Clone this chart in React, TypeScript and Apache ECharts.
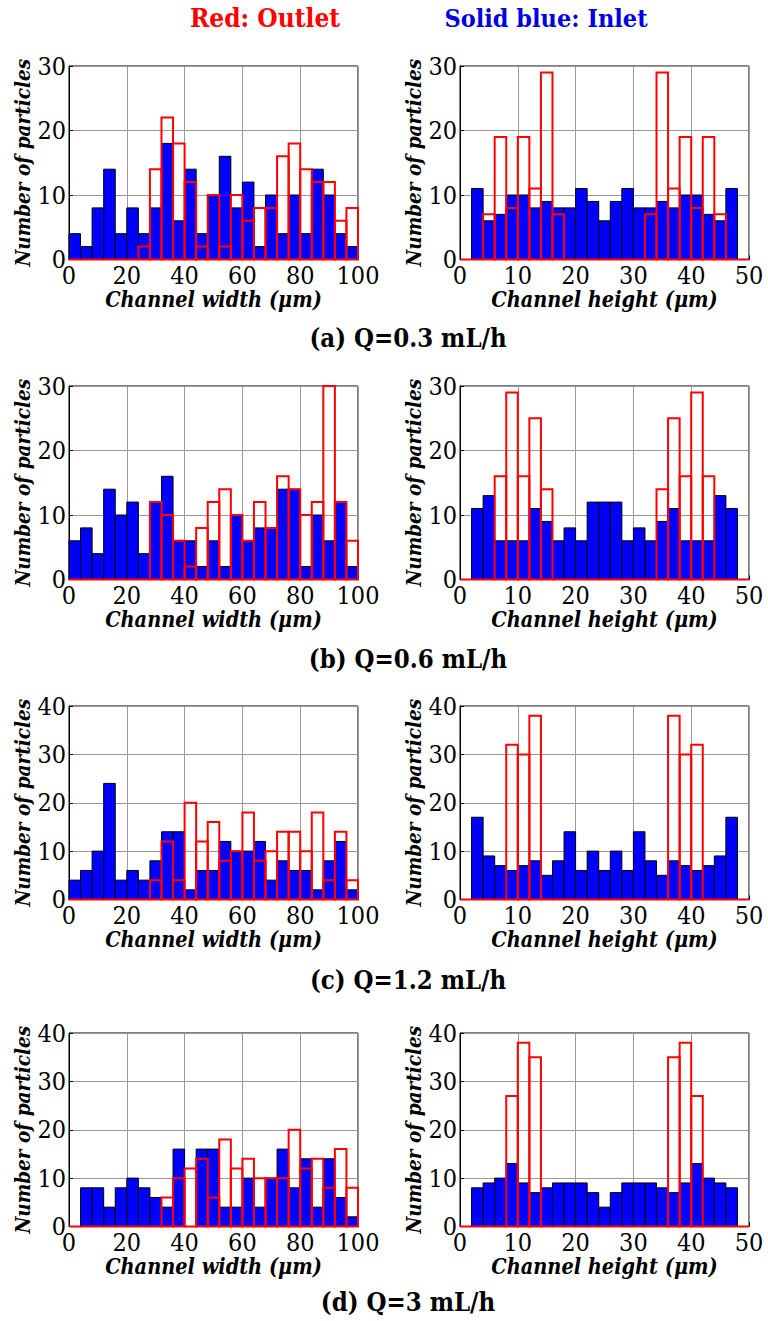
import React, { useEffect, useRef } from "react";
import * as echarts from "echarts";

// Bin layout: width panels use 25 bins of 4 µm (0-100), height panels use 25 bins of 2 µm (0-50)
const widthBinSize = 4;
const heightBinSize = 2;

const aWidthInlet = [4, 2, 8, 14, 4, 8, 4, 8, 18, 6, 14, 4, 10, 16, 8, 12, 2, 10, 4, 10, 4, 14, 10, 4, 2];
const aWidthOutlet = [0, 0, 0, 0, 0, 0, 2, 14, 22, 18, 12, 2, 10, 2, 10, 6, 8, 8, 16, 18, 14, 12, 12, 6, 8];
const aHeightInlet = [0, 11, 6, 7, 10, 10, 8, 9, 8, 8, 11, 9, 6, 9, 11, 8, 8, 9, 8, 10, 10, 7, 6, 11, 0];
const aHeightOutlet = [0, 0, 7, 19, 8, 19, 11, 29, 7, 0, 0, 0, 0, 0, 0, 0, 7, 29, 11, 19, 8, 19, 7, 0, 0];

const bWidthInlet = [6, 8, 4, 14, 10, 12, 4, 12, 16, 6, 6, 2, 6, 2, 10, 6, 8, 8, 14, 14, 2, 10, 6, 12, 2];
const bWidthOutlet = [0, 0, 0, 0, 0, 0, 0, 12, 10, 6, 2, 8, 12, 14, 10, 6, 12, 8, 16, 14, 10, 12, 30, 12, 6];
const bHeightInlet = [0, 11, 13, 6, 6, 6, 11, 9, 6, 8, 6, 12, 12, 12, 6, 8, 6, 9, 11, 6, 6, 6, 13, 11, 0];
const bHeightOutlet = [0, 0, 0, 16, 29, 16, 25, 14, 0, 0, 0, 0, 0, 0, 0, 0, 0, 14, 25, 16, 29, 16, 0, 0, 0];

const cWidthInlet = [4, 6, 10, 24, 4, 6, 4, 8, 14, 14, 2, 6, 6, 12, 10, 10, 12, 4, 8, 6, 6, 2, 8, 12, 2];
const cWidthOutlet = [0, 0, 0, 0, 0, 0, 0, 4, 12, 4, 20, 12, 16, 8, 10, 18, 8, 10, 14, 14, 10, 18, 4, 14, 4];
const cHeightInlet = [0, 17, 9, 7, 6, 7, 8, 5, 8, 14, 6, 10, 6, 10, 6, 14, 8, 5, 8, 7, 6, 7, 9, 17, 0];
const cHeightOutlet = [0, 0, 0, 0, 32, 30, 38, 0, 0, 0, 0, 0, 0, 0, 0, 0, 0, 0, 38, 30, 32, 0, 0, 0, 0];

const dWidthInlet = [0, 8, 8, 4, 8, 10, 8, 6, 4, 16, 0, 16, 16, 4, 4, 10, 4, 10, 16, 8, 14, 4, 14, 6, 2];
const dWidthOutlet = [0, 0, 0, 0, 0, 0, 0, 0, 6, 10, 12, 14, 6, 18, 12, 14, 10, 10, 10, 20, 12, 14, 8, 16, 8];
const dHeightInlet = [0, 8, 9, 10, 13, 9, 7, 8, 9, 9, 9, 7, 4, 7, 9, 9, 9, 8, 7, 9, 13, 10, 9, 8, 0];
const dHeightOutlet = [0, 0, 0, 0, 27, 38, 35, 0, 0, 0, 0, 0, 0, 0, 0, 0, 0, 0, 35, 38, 27, 0, 0, 0, 0];

const panelLabels = ["(a) Q=0.3 mL/h", "(b) Q=0.6 mL/h", "(c) Q=1.2 mL/h", "(d) Q=3 mL/h"];
const yMaxes = [30, 30, 40, 40];
const widthTicks = { max: 100, interval: 20 };
const heightTicks = { max: 50, interval: 10 };

const rows = [
  [aWidthInlet, aWidthOutlet, aHeightInlet, aHeightOutlet],
  [bWidthInlet, bWidthOutlet, bHeightInlet, bHeightOutlet],
  [cWidthInlet, cWidthOutlet, cHeightInlet, cHeightOutlet],
  [dWidthInlet, dWidthOutlet, dHeightInlet, dHeightOutlet],
];

const SERIF = "DejaVu Serif Condensed, DejaVu Serif";
const gridTops = [66, 386, 706, 1033];
const gridH = 193.5;
const colLeft = [69, 460];
const gridW = 289;
const labelY = [338, 659, 980, 1302];

function binData(values: number[], size: number) {
  return values.map((v, i) => [i * size, (i + 1) * size, v]);
}

const blueRender = (params: any, api: any) => {
  const x0 = api.value(0);
  const x1 = api.value(1);
  const v = api.value(2);
  if (!v) return { type: "group", children: [] };
  const p0 = api.coord([x0, 0]);
  const p1 = api.coord([x1, v]);
  return {
    type: "rect",
    shape: { x: p0[0], y: p1[1], width: p1[0] - p0[0], height: p0[1] - p1[1] },
    style: { fill: "#0000ff", stroke: "#000000", lineWidth: 1 },
  };
};

const redRender = (params: any, api: any) => {
  const x0 = api.value(0);
  const x1 = api.value(1);
  const v = api.value(2);
  const p0 = api.coord([x0, 0]);
  const p1 = api.coord([x1, v]);
  return {
    type: "polygon",
    shape: {
      points: [
        [p0[0], p0[1]],
        [p0[0], p1[1]],
        [p1[0], p1[1]],
        [p1[0], p0[1]],
      ],
    },
    style: { fill: null, stroke: "#ff0000", lineWidth: 2 },
  };
};

export default function App() {
  const ref = useRef<HTMLDivElement>(null);
  useEffect(() => {
    if (!ref.current) return;
    const chart = echarts.init(ref.current, null, { renderer: "svg" });
    const grids: any[] = [];
    const xAxes: any[] = [];
    const yAxes: any[] = [];
    const series: any[] = [];
    const graphics: any[] = [];
    const xNameStyle = { fontFamily: SERIF, fontSize: 21.5, fontWeight: "bold", fontStyle: "italic", color: "#000" };
    const yNameStyle = { fontFamily: SERIF, fontSize: 20.5, fontWeight: "bold", fontStyle: "italic", color: "#000" };
    const tickLabel = { color: "#000", fontFamily: SERIF, fontSize: 25, margin: 3 };
    rows.forEach((row, r) => {
      for (let c = 0; c < 2; c++) {
        const idx = r * 2 + c;
        const isWidth = c === 0;
        const ticks = isWidth ? widthTicks : heightTicks;
        const size = isWidth ? widthBinSize : heightBinSize;
        grids.push({
          left: colLeft[c],
          top: gridTops[r],
          width: gridW,
          height: gridH,
          show: true,
          borderColor: "#000",
          borderWidth: 1,
          backgroundColor: "transparent",
        });
        xAxes.push({
          gridIndex: idx,
          type: "value",
          min: 0,
          max: ticks.max,
          interval: ticks.interval,
          name: isWidth ? "Channel width (μm)" : "Channel height (μm)",
          nameLocation: "middle",
          nameGap: 29,
          nameTextStyle: xNameStyle,
          axisLine: { show: true, lineStyle: { color: "#000", width: 1 } },
          axisTick: { show: true, inside: true, length: 4, lineStyle: { color: "#000" } },
          axisLabel: tickLabel,
          splitLine: { show: true, lineStyle: { color: "#999", width: 1 } },
        });
        yAxes.push({
          gridIndex: idx,
          type: "value",
          min: 0,
          max: yMaxes[r],
          interval: 10,
          name: "Number of particles",
          nameLocation: "middle",
          nameGap: 34,
          nameTextStyle: yNameStyle,
          axisLine: { show: true, lineStyle: { color: "#000", width: 1 } },
          axisTick: { show: true, inside: true, length: 4, lineStyle: { color: "#000" } },
          axisLabel: tickLabel,
          splitLine: { show: true, lineStyle: { color: "#999", width: 1 } },
        });
        const inlet = row[c * 2];
        const outlet = row[c * 2 + 1];
        series.push({
          type: "custom",
          name: "Inlet",
          xAxisIndex: idx,
          yAxisIndex: idx,
          renderItem: blueRender,
          encode: { x: [0, 1], y: 2 },
          data: binData(inlet, size),
          z: 2,
          silent: true,
        });
        series.push({
          type: "custom",
          name: "Outlet",
          xAxisIndex: idx,
          yAxisIndex: idx,
          renderItem: redRender,
          encode: { x: [0, 1], y: 2 },
          data: binData(outlet, size),
          z: 3,
          silent: true,
          clip: false,
        });
      }
      graphics.push({
        type: "text",
        x: 408,
        y: labelY[r],
        style: {
          text: panelLabels[r],
          textAlign: "center",
          textVerticalAlign: "middle",
          fontFamily: SERIF,
          fontSize: 25.5,
          fontWeight: "bold",
          fill: "#000",
        },
      });
    });
    graphics.push({
      type: "text",
      x: 265,
      y: 18,
      style: {
        text: "Red: Outlet",
        textAlign: "center",
        textVerticalAlign: "middle",
        fontFamily: SERIF,
        fontSize: 26,
        fontWeight: "bold",
        fill: "#ff0000",
      },
    });
    graphics.push({
      type: "text",
      x: 546,
      y: 18,
      style: {
        text: "Solid blue: Inlet",
        textAlign: "center",
        textVerticalAlign: "middle",
        fontFamily: SERIF,
        fontSize: 25,
        fontWeight: "bold",
        fill: "#0000e6",
      },
    });

    chart.setOption({
      animation: false,
      backgroundColor: "#ffffff",
      grid: grids,
      xAxis: xAxes,
      yAxis: yAxes,
      series,
      graphic: graphics,
    });
    return () => chart.dispose();
  }, []);
  return (
    <div
      ref={ref}
      style={{ position: "absolute", left: 0, top: 0, width: 768, height: 1321, background: "#fff" }}
    />
  );
}
